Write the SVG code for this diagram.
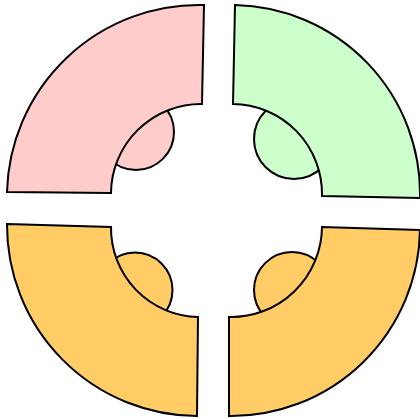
<svg xmlns="http://www.w3.org/2000/svg" width="420" height="419" viewBox="0 0 420 419">
<style>
.s{stroke:#000;stroke-width:2;stroke-linejoin:miter}
.pink{fill:#FFCCCC}
.green{fill:#CCFFCC}
.orange{fill:#FFCC66}
</style>
<rect width="420" height="419" fill="#fff"/>
<g id="node-top-left">
<circle class="s pink" cx="136" cy="132" r="38"/>
<path class="s pink" d="M204,5 A192,192 0 0 0 7,192 L111,193 A90,90 0 0 1 202,104 Z"/>
</g>
<g id="node-top-right">
<circle class="s green" cx="294" cy="139" r="40"/>
<path class="s green" d="M235,5 A189,189 0 0 1 420,198 L322,196 A90,90 0 0 0 233,104 Z"/>
</g>
<g id="node-bottom-left">
<circle class="s orange" cx="135" cy="290" r="37.5"/>
<path class="s orange" d="M7,224 L111,227 A89,89 0 0 0 198,317 L197,416 A191,191 0 0 1 7,224 Z"/>
</g>
<g id="node-bottom-right">
<circle class="s orange" cx="292" cy="290" r="38"/>
<path class="s orange" d="M322,227 L420,230 A189,189 0 0 1 229,416 L229,317 A91,91 0 0 0 322,227 Z"/>
</g>
<g id="connectors"/>
</svg>
